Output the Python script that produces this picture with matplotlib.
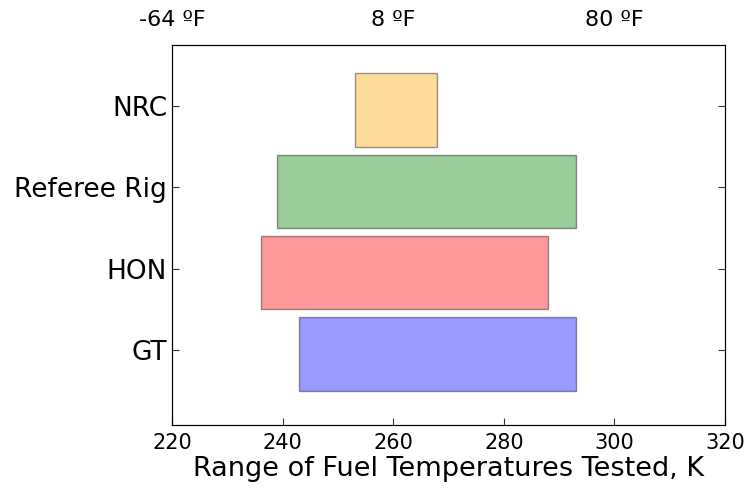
import matplotlib.pyplot as plt

# Fuel temperature ranges tested (K)
labels = ['GT', 'HON', 'Referee Rig', 'NRC']
t_low = [243, 236, 239, 253]
t_high = [293, 288, 293, 268]
colors = ['blue', 'red', 'green', 'orange']

k_ticks = [220, 240, 260, 280, 300, 320]
f_labels = ['-64 \u00baF', '', '8 \u00baF', '', '80 \u00baF', '']

pos = list(range(1, len(labels) + 1))
widths = [h - l for l, h in zip(t_low, t_high)]

fig = plt.figure(figsize=(7.45, 4.95), dpi=100)
ax = fig.add_axes([0.2309, 0.1414, 0.7423, 0.7677])

ax.barh(pos, widths, left=t_low, height=0.9, color=colors,
        alpha=0.4, edgecolor='black', linewidth=1)

ax.set_xlim(220, 320)
ax.set_ylim(0.127, 4.80)
ax.set_xticks(k_ticks)
ax.set_yticks([p + 0.05 for p in pos])
ax.set_yticklabels(labels, fontsize=19)
ax.tick_params(axis='x', labelsize=15, pad=6)
ax.tick_params(direction='in', length=5, top=True, right=True, color='#333333')
ax.set_xlabel('Range of Fuel Temperatures Tested, K', fontsize=19.5, labelpad=2)
for s in ax.spines.values():
    s.set_color('#333333')

# Fahrenheit labels on top
ax2 = ax.twiny()
ax2.set_xlim(ax.get_xlim())
ax2.set_xticks(k_ticks)
ax2.set_xticklabels(f_labels, fontsize=16)
ax2.tick_params(axis='x', length=0, pad=11)

plt.savefig('out.png', dpi=100)
plt.close()
